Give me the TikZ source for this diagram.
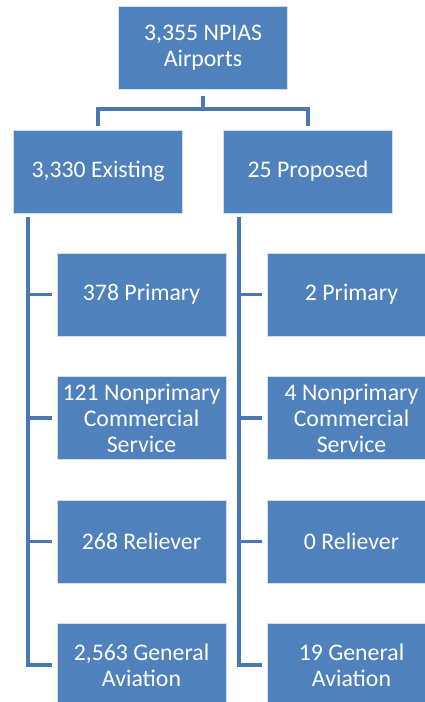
\documentclass[tikz,border=0pt]{standalone}
\usepackage{fontspec}
\setmainfont{Carlito}
\definecolor{boxblue}{HTML}{4F81BD}
\definecolor{lineblue}{HTML}{4A78B2}
\begin{document}
\begin{tikzpicture}[x=1pt,y=-1pt,
  orgbox/.style={rectangle, fill=boxblue, draw=white!75!boxblue, line width=0.6pt,
    minimum width=169pt, minimum height=83pt, inner sep=0pt, align=center,
    text=white, font=\fontsize{23.8}{26}\selectfont},
  conn/.style={draw=lineblue, line width=3.5pt}]
\useasboundingbox (0,0) rectangle (425,702);
\clip (0,0) rectangle (425,702);
\node[orgbox] (top) at (203,48) {3,355 NPIAS\\Airports};
\node[orgbox] (exist) at (98,171.5) {3,330 Existing};
\node[orgbox] (prop) at (308,171.5) {25 Proposed};
\node[orgbox] (l1) at (141.5,294.5) {378 Primary};
\node[orgbox] (l2) at (141.5,418) {121 Nonprimary\\Commercial\\Service};
\node[orgbox] (l3) at (141.5,541.5) {268 Reliever};
\node[orgbox] (l4) at (141.5,665) {2,563 General\\Aviation};
\node[orgbox] (r1) at (351.5,294.5) {2 Primary};
\node[orgbox] (r2) at (351.5,418) {4 Nonprimary\\Commercial\\Service};
\node[orgbox] (r3) at (351.5,541.5) {0 Reliever};
\node[orgbox] (r4) at (351.5,665) {19 General\\Aviation};
% top connectors
\coordinate (hub) at ([yshift=-19pt]top.south);
\draw[conn, shorten <=6pt, shorten >=4pt] (top.south) -- (hub) -| (exist.north);
\draw[conn, shorten >=4pt] (hub) -| (prop.north);
% spines
\coordinate (ls) at ([xshift=15pt]exist.south west);
\coordinate (rs) at ([xshift=16pt]prop.south west);
\draw[conn, shorten <=4pt, shorten >=5pt] (ls) |- (l4.west);
\draw[conn, shorten <=4pt, shorten >=5pt] (rs) |- (r4.west);
\foreach \n in {l1,l2,l3}{
  \draw[conn, shorten >=5pt] (ls |- \n.west) -- (\n.west);
}
\foreach \n in {r1,r2,r3}{
  \draw[conn, shorten >=5pt] (rs |- \n.west) -- (\n.west);
}
\end{tikzpicture}
\end{document}
